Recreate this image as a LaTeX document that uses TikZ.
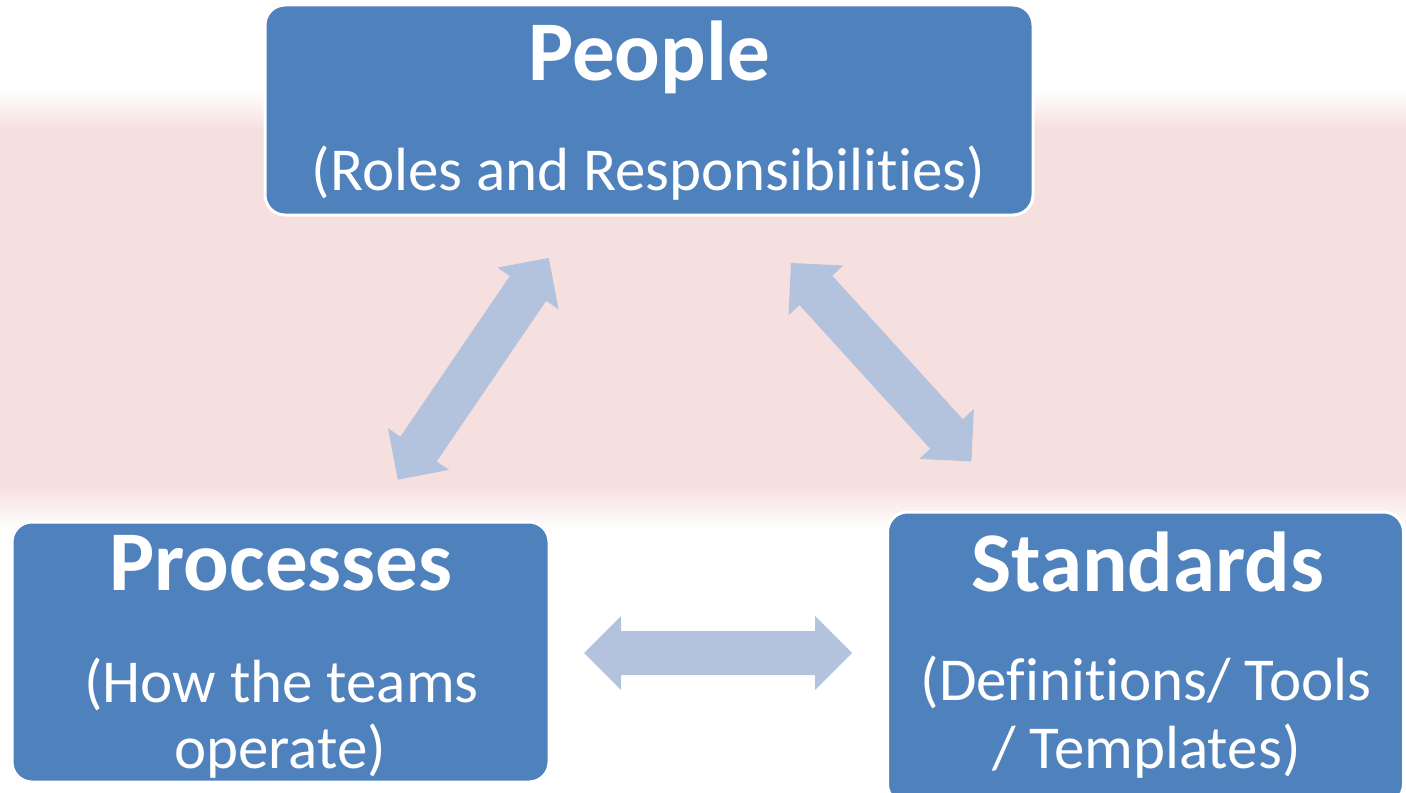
\documentclass[tikz,border=0pt]{standalone}
\usepackage{fontspec}
\setmainfont{Carlito}[Ligatures=NoCommon]
\usetikzlibrary{calc}
\definecolor{boxblue}{RGB}{79,129,189}
\definecolor{arrowblue}{RGB}{179,195,222}
\definecolor{bgpink}{RGB}{246,223,223}
\newcommand\ahl{18.5pt}
\newcommand\ahw{18.5pt}
\newcommand\ash{11pt}
\newcommand\dblarrow[2]{%
  \fill[arrowfill] (#1)
    -- ($(#1)!\ahl!(#2)!\ahw!90:(#2)$)
    -- ($(#1)!\ahl!(#2)!\ash!90:(#2)$)
    -- ($(#2)!\ahl!(#1)!\ash!-90:(#1)$)
    -- ($(#2)!\ahl!(#1)!\ahw!-90:(#1)$)
    -- (#2)
    -- ($(#2)!\ahl!(#1)!\ahw!90:(#1)$)
    -- ($(#2)!\ahl!(#1)!\ash!90:(#1)$)
    -- ($(#1)!\ahl!(#2)!\ash!-90:(#2)$)
    -- ($(#1)!\ahl!(#2)!\ahw!-90:(#2)$)
    -- cycle;}
\begin{document}
\begin{tikzpicture}[x=0.5pt,y=-0.5pt,
  box/.style={fill=boxblue, draw=white, line width=1.5pt, rounded corners=10pt, inner sep=0pt},
  title/.style={text=white, font=\bfseries\fontsize{42.5}{50}\selectfont, anchor=base, inner sep=0pt},
  sub/.style={text=white, font=\fontsize{30.5}{36}\selectfont, anchor=base, inner sep=0pt},
  arrowfill/.style={fill=arrowblue}]
\useasboundingbox (0,0) rectangle (1406,792);
\clip (0,0) rectangle (1406,792);
% faded background band
\shade[top color=white, bottom color=bgpink] (0,90) rectangle (1406,130);
\fill[bgpink] (0,129) rectangle (1406,486);
\shade[top color=bgpink, bottom color=white] (0,485) rectangle (1406,530);
% boxes
\node[box, minimum width=384pt, minimum height=105pt] (people) at (649,110) {};
\node[box, minimum width=268.5pt, minimum height=130pt] (processes) at (280.5,652) {};
\node[box, minimum width=258pt, minimum height=146pt] (standards) at (1145.5,658) {};
% texts
\node[title] (peopleT) at (649,81) {People};
\node[sub] (peopleS) at (648.5,190) {(Roles and Responsibilities)};
\node[title] (procT) at (281,590) {Processes};
\node[sub] (procS1) at (281.5,702) {(How the teams};
\node[sub] (procS2) at (280,768) {operate)};
\node[title] (stdT) at (1147.5,591) {Standards};
\node[sub] (stdS1) at (1146,700) {(Definitions/ Tools};
\node[sub] (stdS2) at (1146.5,768) {/ Templates)};
% connector ends
\coordinate (pp1) at (397.7,479.6);
\coordinate (pp2) at (548.8,257.9);
\coordinate (ps1) at (791,263);
\coordinate (ps2) at (971.4,461.4);
\coordinate (prs1) at (584,653);
\coordinate (prs2) at (852,653);
\dblarrow{pp1}{pp2}
\dblarrow{ps1}{ps2}
\dblarrow{prs1}{prs2}
\end{tikzpicture}
\end{document}
